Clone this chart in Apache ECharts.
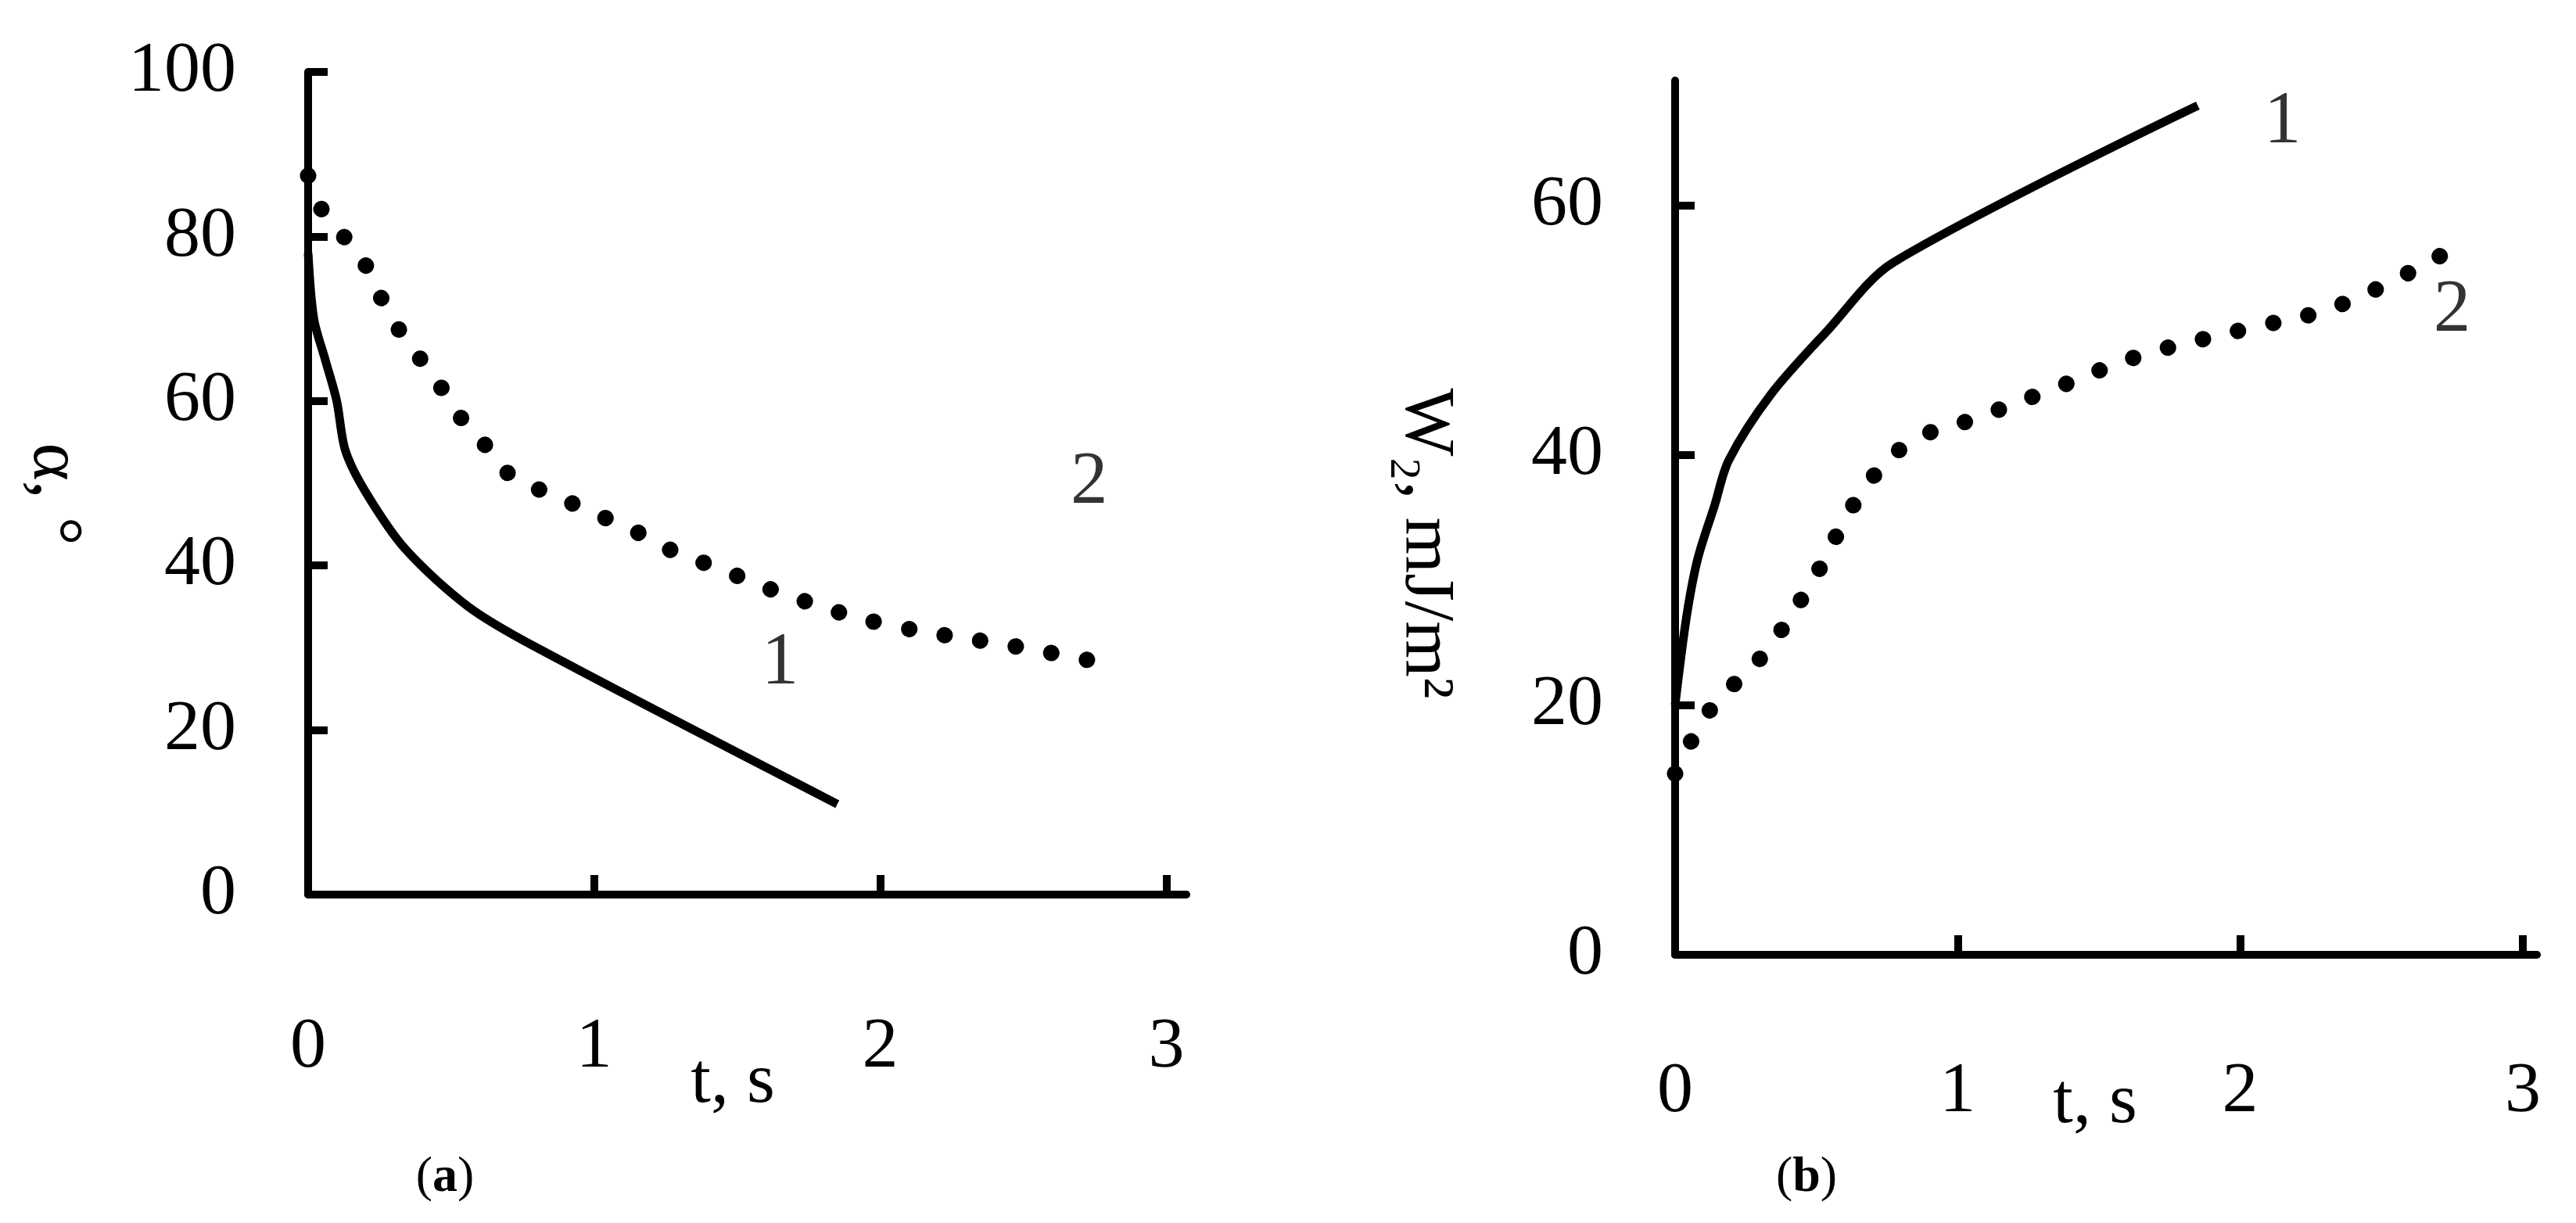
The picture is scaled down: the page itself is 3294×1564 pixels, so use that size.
<!DOCTYPE html>
<html><head><meta charset="utf-8">
<script src="https://cdn.jsdelivr.net/npm/echarts@6/dist/echarts.min.js"></script>
<style>html,body{margin:0;background:#fff}#c{width:3294px;height:1564px}</style>
</head><body><div id="c"></div>
<script>
const xTicks=[0,1,2,3];
const a1=[[0,78],[0.02,70],[0.06,65],[0.1,60],[0.13,54],[0.2,49],[0.34,42],[0.56,35],[0.8,30],[1.85,11]];
const a2=[[0,87.4],[0.04,83.7],[0.12,80.2],[0.21,76],[0.27,71.5],[0.35,67],[0.44,63],[0.52,58.6],[0.62,54.6],[0.72,50.6],[0.85,48.7],[0.99,46.5],[1.13,44.4],[1.26,42],[1.4,40.1],[1.54,38.2],[1.68,36.3],[2,33],[2.5,30],[2.8,28]];
const b1=[[0,20],[0.04,27],[0.08,31.7],[0.14,36],[0.19,39.6],[0.34,44.9],[0.54,50],[0.77,55.4],[1.85,68]];
const b2=[[0,14.5],[0.13,19.8],[0.3,23.7],[0.48,29.7],[0.66,37],[0.83,41],[1.07,43],[1.36,45.5],[1.65,48],[2,50],[2.35,52],[2.75,56.5]];
const labA=[[1.65,28,'1'],[2.73,50,'2']];
const labB=[[2.15,66.6,'1'],[2.75,51.5,'2']];
const F='Liberation Serif';
const chart=echarts.init(document.getElementById('c'));
function xAx(gi,max,margin){return {gridIndex:gi,type:'value',min:0,max:max,interval:1,
 axisLine:{lineStyle:{color:'#000',width:10}},axisTick:{inside:true,length:25,lineStyle:{color:'#000',width:10}},
 axisLabel:{color:'#000',fontFamily:F,fontSize:92,margin:margin,showMaxLabel:false},splitLine:{show:false}};}
function yAx(gi,max){return {gridIndex:gi,type:'value',min:0,max:max,interval:20,
 axisLine:{lineStyle:{color:'#000',width:10}},axisTick:{inside:true,length:25,lineStyle:{color:'#000',width:10}},
 axisLabel:{color:'#000',fontFamily:F,fontSize:92,margin:92,showMaxLabel:max===100},splitLine:{show:false}};}
const solid={type:'line',smooth:0.3,symbol:'none',lineStyle:{color:'#000',width:11}};
const dotted={type:'line',smooth:0.4,symbol:'none',lineStyle:{color:'#000',width:21,type:[0.1,46],cap:'round'}};
const labS=(xi,d)=>({type:'scatter',xAxisIndex:xi,yAxisIndex:xi,symbolSize:0,data:d.map(p=>({value:[p[0],p[1]],label:{formatter:p[2]}})),
 label:{show:true,position:'inside',color:'#000',fontFamily:F,fontSize:95}});
const T=(x,y,t,rot)=>({type:'text',x:x,y:y,rotation:rot||0,style:{text:t,font:'92px "Liberation Serif"',fill:'#000',align:'center',verticalAlign:'middle'}});
chart.setOption({animation:false,
 grid:[{left:394,width:1123,top:92,height:1052},{left:2142,width:1102,top:103,height:1118}],
 xAxis:[xAx(0,3.07,150),xAx(1,3.05,130)],
 yAxis:[yAx(0,100),yAx(1,70)],
 series:[
  Object.assign({},solid,{xAxisIndex:0,yAxisIndex:0,data:a1}),
  Object.assign({},dotted,{xAxisIndex:0,yAxisIndex:0,data:a2}),
  Object.assign({},solid,{xAxisIndex:1,yAxisIndex:1,data:b1}),
  Object.assign({},dotted,{xAxisIndex:1,yAxisIndex:1,data:b2}),
  labS(0,labA),labS(1,labB)
 ],
 graphic:[
  T(937,1385,'t, s'),T(2679,1411,'t, s'),
  T(68,632,'α, °',-Math.PI/2),T(1822,695,'W₂, mJ/m²',-Math.PI/2),
  {type:'text',x:569,y:1506,style:{text:'({b|a})',rich:{b:{fontWeight:'bold',fontSize:64,fontFamily:F}},font:'64px "Liberation Serif"',fill:'#000',align:'center',verticalAlign:'middle'}},
  {type:'text',x:2310,y:1506,style:{text:'({b|b})',rich:{b:{fontWeight:'bold',fontSize:64,fontFamily:F}},font:'64px "Liberation Serif"',fill:'#000',align:'center',verticalAlign:'middle'}}
 ]});
</script></body></html>
